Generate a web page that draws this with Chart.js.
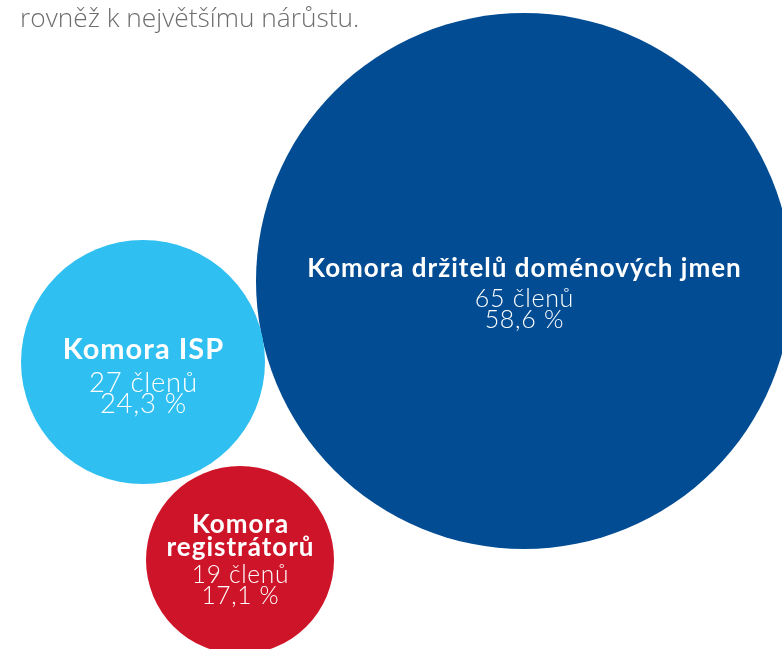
<!DOCTYPE html>
<html lang="cs">
<head>
    <meta charset="UTF-8">
    <title>Komory - počet členů</title>
    <script src="https://cdn.jsdelivr.net/npm/chart.js"></script>
    <style>
        html, body { margin: 0; padding: 0; background: #fff; overflow: hidden; }
        #wrap { position: relative; width: 782px; height: 649px; }
    </style>
</head>
<body>
    <div id="wrap"><canvas id="komoryChart"></canvas></div>
    <script>
        // Data
        const komory = ['Komora držitelů doménových jmen', 'Komora ISP', 'Komora registrátorů'];
        const clenove = [65, 27, 19];
        const podily = ['58,6 %', '24,3 %', '17,1 %'];
        const uvodniText = 'rovněž k největšímu nárůstu.';

        // Rozmístění bublin (osy v pixelech, 1 jednotka = 1 px)
        const stredX = [524, 143, 240];
        const stredY = [281, 362, 560];
        const polomer = [268, 122, 94];
        const barvy = ['#024C93', '#2FBFF0', '#CE1429'];

        // Písmo popisků pro každou bublinu
        const pismoTucne = [26, 29, 26];
        const pismoTenke = [25, 27.5, 24.5];
        const posunNazvu = [-4, -3, -4];   // účaří posledního řádku názvu vůči středu
        const mezeraCisla = [30, 33, 27];  // od názvu k počtu členů

        // Popisky uvnitř bublin
        const popiskyPlugin = {
            id: 'popisky',
            afterDatasetsDraw(chart) {
                const ctx = chart.ctx;
                const meta = chart.getDatasetMeta(0);
                ctx.save();
                ctx.fillStyle = '#ffffff';
                ctx.textAlign = 'center';
                ctx.textBaseline = 'alphabetic';
                meta.data.forEach((el, i) => {
                    const r = polomer[i];
                    ctx.font = 'bold ' + pismoTucne[i] + 'px Lato, sans-serif';
                    ctx.letterSpacing = '1px';
                    let radky = [komory[i]];
                    if (ctx.measureText(komory[i]).width > 2 * r - 20) {
                        const k = komory[i].indexOf(' ');
                        radky = [komory[i].slice(0, k), komory[i].slice(k + 1)];
                    }
                    let y = el.y + posunNazvu[i] - (radky.length - 1) * 23;
                    radky.forEach((t, j) => {
                        ctx.fillText(t, el.x + 0.5, y);
                        if (j < radky.length - 1) y += 23;
                    });
                    y += mezeraCisla[i];
                    ctx.font = '300 ' + pismoTenke[i] + 'px Lato, sans-serif';
                    ctx.letterSpacing = '0.7px';
                    ctx.fillText(clenove[i] + ' členů', el.x + 0.4, y);
                    ctx.fillText(podily[i], el.x + 0.4, y + 21);
                });
                ctx.restore();
            }
        };

        const uvodPlugin = {
            id: 'uvod',
            afterDraw(chart) {
                const ctx = chart.ctx;
                ctx.save();
                ctx.fillStyle = '#6e6e6e';
                ctx.font = '300 26.3px "Open Sans", sans-serif';
                ctx.textAlign = 'left';
                ctx.fillText(uvodniText, 20, 27);
                ctx.restore();
            }
        };

        const ctx = document.getElementById('komoryChart').getContext('2d');
        new Chart(ctx, {
            type: 'bubble',
            data: {
                labels: komory,
                datasets: [{
                    data: komory.map((k, i) => ({ x: stredX[i], y: stredY[i], r: polomer[i] })),
                    backgroundColor: barvy,
                    borderWidth: 0,
                    hoverBorderWidth: 0
                }]
            },
            options: {
                responsive: true,
                maintainAspectRatio: false,
                animation: false,
                events: [],
                layout: { padding: 0, autoPadding: false },
                clip: false,
                plugins: {
                    legend: { display: false },
                    tooltip: { enabled: false }
                },
                scales: {
                    x: { type: 'linear', min: 0, max: 782, display: false },
                    y: { type: 'linear', min: 0, max: 649, reverse: true, display: false }
                }
            },
            plugins: [popiskyPlugin, uvodPlugin]
        });
    </script>
</body>
</html>
